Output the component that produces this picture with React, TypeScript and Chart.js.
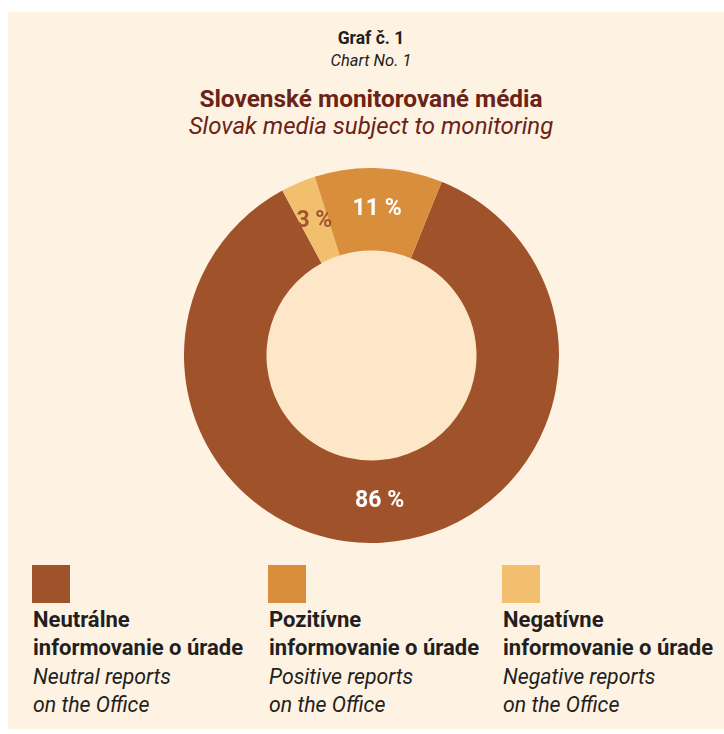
import React, { useEffect, useRef } from "react";
import { Chart, registerables } from "chart.js";

Chart.register(...registerables);

const categoriesSk = ["Neutrálne", "Pozitívne", "Negatívne"];
const categoriesSk2 = ["informovanie o úrade", "informovanie o úrade", "informovanie o úrade"];
const categoriesEn = ["Neutral reports", "Positive reports", "Negative reports"];
const categoriesEn2 = ["on the Office", "on the Office", "on the Office"];
const values = [86, 11, 3];
const valueLabels = ["86 %", "11 %", "3 %"];
const colors = ["#a0522a", "#d98e3b", "#f2bf6f"];
const labelColors = ["#ffffff", "#ffffff", "#a3552c"];
// clockwise drawing order of the slices (neutral, negative, positive)
const sliceOrder = [0, 2, 1];

const FONT = "Roboto, 'Open Sans', sans-serif";
const BG = "#fef2e3";
const INNER = "#fde7c8";
const TITLE = "#6a2316";
const TEXT = "#231f20";

export default function App() {
  const ref = useRef<HTMLCanvasElement>(null);

  useEffect(() => {
    if (!ref.current) return;
    const innerFill = {
      id: "innerFill",
      beforeDatasetsDraw(chart: any) {
        const meta = chart.getDatasetMeta(0);
        const arc = meta.data[0];
        if (!arc) return;
        const { x, y, innerRadius } = arc.getProps(["x", "y", "innerRadius"], true);
        const ctx = chart.ctx;
        ctx.save();
        ctx.beginPath();
        ctx.arc(x, y, innerRadius + 0.5, 0, Math.PI * 2);
        ctx.fillStyle = INNER;
        ctx.fill();
        ctx.restore();
      },
    };
    const sliceLabels = {
      id: "sliceLabels",
      afterDatasetsDraw(chart: any) {
        const meta = chart.getDatasetMeta(0);
        const ctx = chart.ctx;
        ctx.save();
        ctx.font = `bold 23px ${FONT}`;
        ctx.textAlign = "center";
        ctx.textBaseline = "middle";
        meta.data.forEach((arc: any, i: number) => {
          const src = sliceOrder[i];
          const p = arc.tooltipPosition(true);
          ctx.fillStyle = labelColors[src];
          ctx.fillText(valueLabels[src], p.x, p.y);
        });
        ctx.restore();
      },
    };
    const chart = new Chart(ref.current, {
      type: "doughnut",
      data: {
        labels: sliceOrder.map((i) => categoriesSk[i]),
        datasets: [
          {
            data: sliceOrder.map((i) => values[i]),
            backgroundColor: sliceOrder.map((i) => colors[i]),
            borderWidth: 0,
          },
        ],
      },
      options: {
        responsive: false,
        animation: false,
        rotation: 22,
        cutout: "56%",
        layout: { padding: 0 },
        plugins: {
          legend: { display: false },
          tooltip: { enabled: false },
          title: { display: false },
        },
      },
      plugins: [innerFill, sliceLabels],
    });
    return () => chart.destroy();
  }, []);

  const center = (top: number, size: number, weight: string, style: string, color: string, text: string) => (
    <div
      style={{
        position: "absolute",
        left: 63,
        width: 600,
        top,
        textAlign: "center",
        fontFamily: FONT,
        fontSize: size,
        lineHeight: `${size * 1.2}px`,
        fontWeight: weight as any,
        fontStyle: style,
        color,
        whiteSpace: "nowrap",
      }}
    >
      {text}
    </div>
  );

  const legendX = [24, 260, 494];

  return (
    <div
      style={{
        position: "absolute",
        left: 8,
        top: 12,
        width: 716,
        height: 717,
        background: BG,
        overflow: "hidden",
      }}
    >
      {center(16, 17.5, "bold", "normal", TEXT, "Graf č. 1")}
      {center(39.2, 16.5, "normal", "italic", TEXT, "Chart No. 1")}
      {center(72.3, 24.4, "bold", "normal", TITLE, "Slovenské monitorované média")}
      {center(100.4, 24, "normal", "italic", TITLE, "Slovak media subject to monitoring")}
      <canvas
        ref={ref}
        width={375}
        height={375}
        style={{ position: "absolute", left: 176, top: 156, width: 375, height: 375 }}
      />
      {legendX.map((x, i) => (
        <div key={i}>
          <div
            style={{
              position: "absolute",
              left: x,
              top: 553,
              width: 38,
              height: 38,
              background: colors[i],
            }}
          />
          <div
            style={{
              position: "absolute",
              left: x + 1,
              top: 593.5,
              fontFamily: FONT,
              fontSize: 22,
              lineHeight: "28.5px",
              color: TEXT,
              whiteSpace: "nowrap",
            }}
          >
            <div style={{ fontWeight: "bold" }}>{categoriesSk[i]}</div>
            <div style={{ fontWeight: "bold" }}>{categoriesSk2[i]}</div>
            <div style={{ fontStyle: "italic", fontSize: 21.3 }}>{categoriesEn[i]}</div>
            <div style={{ fontStyle: "italic", fontSize: 21.3 }}>{categoriesEn2[i]}</div>
          </div>
        </div>
      ))}
    </div>
  );
}
